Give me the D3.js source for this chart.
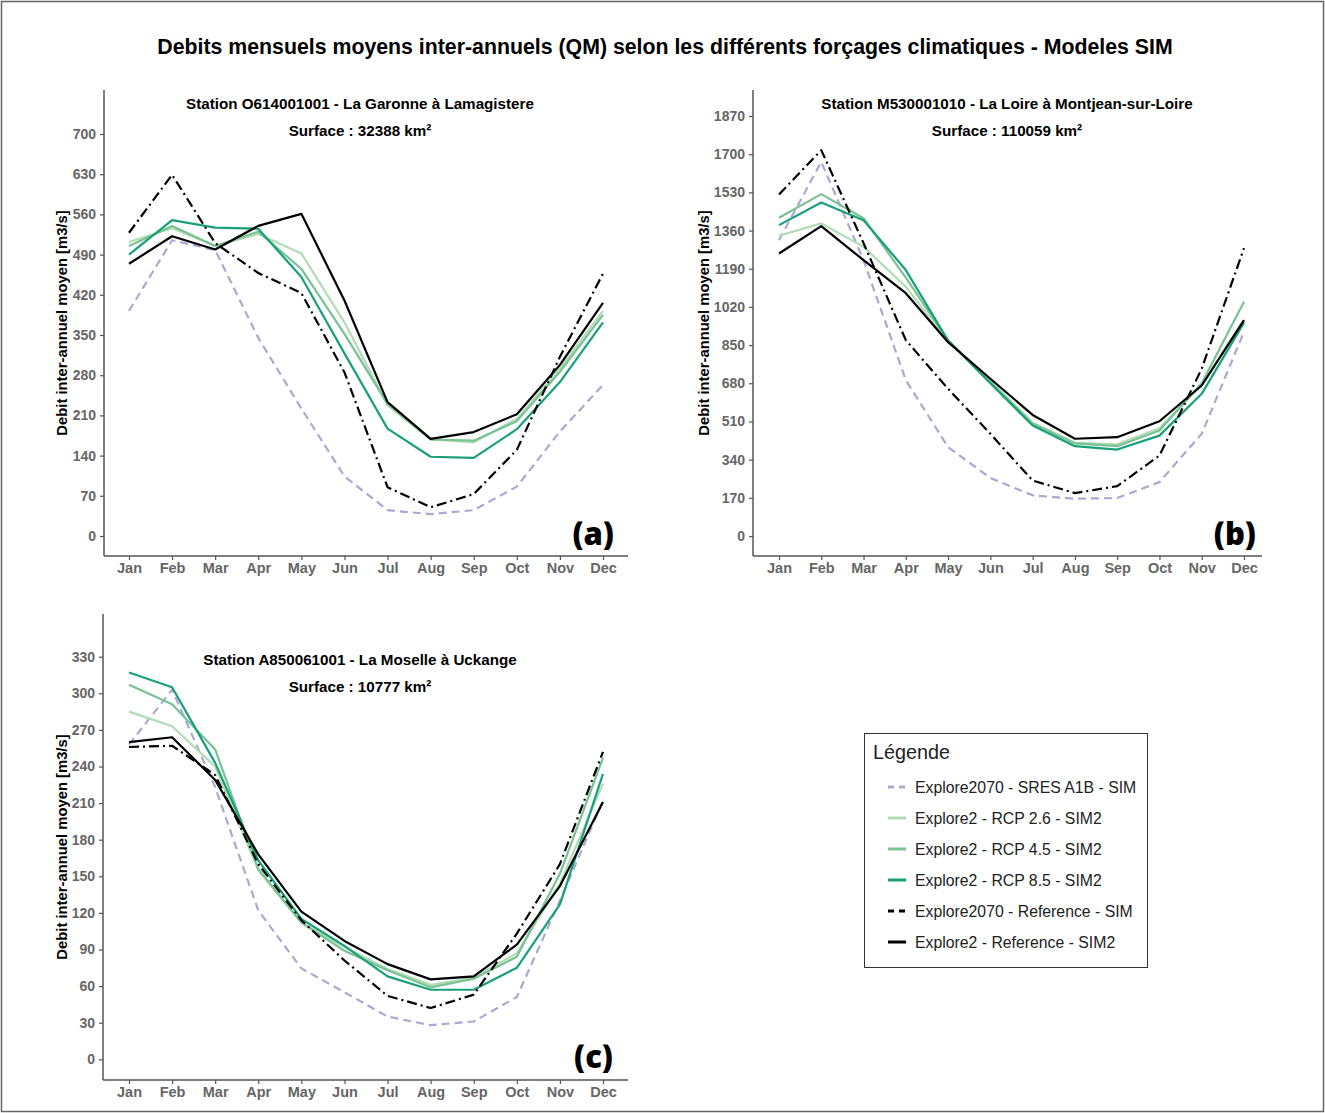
<!DOCTYPE html>
<html>
<head>
<meta charset="utf-8">
<script src="https://cdn.jsdelivr.net/npm/d3@7"></script>
<style>
  html, body { margin: 0; padding: 0; background: #fff; }
  svg { display: block; }
</style>
</head>
<body>
<svg id="chart" width="1325" height="1113"></svg>
<script>
// Months on the x axis
const months = ["Jan","Feb","Mar","Apr","May","Jun","Jul","Aug","Sep","Oct","Nov","Dec"];

// Series labels (legend order)
const seriesNames = [
  "Explore2070 - SRES A1B - SIM",
  "Explore2 - RCP 2.6 - SIM2",
  "Explore2 - RCP 4.5 - SIM2",
  "Explore2 - RCP 8.5 - SIM2",
  "Explore2070 - Reference - SIM",
  "Explore2 - Reference - SIM2"
];

// La Garonne à Lamagistere (m3/s)
const garonneSres  = [392, 515, 498, 345, 222, 104, 45, 38, 45, 86, 182, 263];
const garonneRcp26 = [512, 536, 505, 526, 492, 372, 228, 168, 163, 204, 292, 392];
const garonneRcp45 = [505, 540, 505, 530, 465, 352, 230, 168, 166, 200, 286, 385];
const garonneRcp85 = [490, 550, 537, 535, 451, 318, 187, 138, 136, 186, 268, 372];
const garonneRef70 = [528, 629, 510, 458, 423, 285, 85, 50, 73, 150, 312, 457];
const garonneRef2  = [474, 522, 499, 540, 561, 410, 233, 169, 181, 212, 298, 406];
const garonneTicks = [0, 70, 140, 210, 280, 350, 420, 490, 560, 630, 700];

// La Loire à Montjean-sur-Loire (m3/s)
const loireSres  = [1317, 1666, 1228, 694, 396, 258, 181, 166, 169, 240, 455, 909];
const loireRcp26 = [1337, 1392, 1288, 1110, 865, 690, 505, 415, 408, 480, 675, 960];
const loireRcp45 = [1417, 1522, 1415, 1150, 870, 685, 500, 412, 400, 470, 680, 1043];
const loireRcp85 = [1384, 1485, 1406, 1184, 870, 680, 492, 400, 385, 447, 633, 950];
const loireRef70 = [1521, 1718, 1304, 872, 655, 455, 247, 191, 222, 358, 745, 1282];
const loireRef2  = [1258, 1380, 1228, 1081, 863, 700, 539, 433, 440, 511, 670, 961];
const loireTicks = [0, 170, 340, 510, 680, 850, 1020, 1190, 1360, 1530, 1700, 1870];

// La Moselle à Uckange (m3/s)
const moselleSres  = [258, 303, 223, 122, 74.5, 55, 35, 28, 31, 51, 130, 212];
const moselleRcp26 = [285, 273, 240, 155, 112, 92, 74, 61, 67, 87, 144, 226];
const moselleRcp45 = [307, 291, 254, 156, 112, 89, 73, 59, 66, 84, 152, 247];
const moselleRcp85 = [317, 305, 243, 163, 115, 93, 68, 57, 57, 75, 127, 234];
const moselleRef70 = [256, 257, 233, 160, 114, 81, 52, 42, 53, 103, 160, 252];
const moselleRef2  = [260, 264, 229, 168, 121, 97, 78, 65.5, 68, 94, 142, 211];
const moselleTicks = [0, 30, 60, 90, 120, 150, 180, 210, 240, 270, 300, 330];

// Line styles per series
const styles = [
  { color: "#aba8d4", width: 2.2, dash: "8,5" },
  { color: "#b2dcb6", width: 2.2, dash: null },
  { color: "#79c294", width: 2.2, dash: null },
  { color: "#19a078", width: 2.2, dash: null },
  { color: "#000000", width: 2.2, dash: "10,4,2,4" },
  { color: "#000000", width: 2.2, dash: null }
];

const svg = d3.select("#chart");
const FONT = "'Liberation Sans', Arial, sans-serif";

// Outer frame
svg.append("rect")
  .attr("x", 1.5).attr("y", 1.5)
  .attr("width", 1322).attr("height", 1110)
  .attr("fill", "none").attr("stroke", "#666").attr("stroke-width", 1.5);

// Main title
svg.append("text")
  .attr("x", 665).attr("y", 54)
  .attr("text-anchor", "middle")
  .attr("font-family", FONT).attr("font-weight", "bold")
  .attr("font-size", "21.3px").attr("fill", "#000")
  .text("Debits mensuels moyens inter-annuels (QM) selon les différents forçages climatiques - Modeles SIM");

const panels = [
  {
    series: [garonneSres, garonneRcp26, garonneRcp45, garonneRcp85, garonneRef70, garonneRef2],
    ticks: garonneTicks,
    title: "Station O614001001 - La Garonne à Lamagistere",
    surface: "Surface : 32388 km²",
    tag: "(a)",
    left: 104, right: 628, top: 90, bottom: 556,
    first: 129, last: 603,
    zeroY: 536, topTickY: 134,
    titleX: 360, titleY: 109,
    tagX: 614, tagY: 545,
    yTitleX: 67
  },
  {
    series: [loireSres, loireRcp26, loireRcp45, loireRcp85, loireRef70, loireRef2],
    ticks: loireTicks,
    title: "Station M530001010 - La Loire à Montjean-sur-Loire",
    surface: "Surface : 110059 km²",
    tag: "(b)",
    left: 753, right: 1262, top: 90, bottom: 556,
    first: 779, last: 1244,
    zeroY: 536, topTickY: 116,
    titleX: 1007, titleY: 109,
    tagX: 1256, tagY: 545,
    yTitleX: 709
  },
  {
    series: [moselleSres, moselleRcp26, moselleRcp45, moselleRcp85, moselleRef70, moselleRef2],
    ticks: moselleTicks,
    title: "Station A850061001 - La Moselle à Uckange",
    surface: "Surface : 10777 km²",
    tag: "(c)",
    left: 103, right: 628, top: 614, bottom: 1080,
    first: 129, last: 603,
    zeroY: 1059.3, topTickY: 656.7,
    titleX: 360, titleY: 665,
    tagX: 613, tagY: 1068,
    yTitleX: 67
  }
];

panels.forEach(p => {
  const g = svg.append("g");
  const topTick = p.ticks[p.ticks.length - 1];

  const x = d3.scalePoint().domain(months).range([p.first, p.last]);
  // linear scale defined by the zero and top tick positions
  const y = d3.scaleLinear().domain([0, topTick]).range([p.zeroY, p.topTickY]);

  // Y axis
  const yAxis = d3.axisLeft(y).tickValues(p.ticks).tickSize(4).tickPadding(4).tickFormat(d3.format("d"));
  const ya = g.append("g").attr("transform", `translate(${p.left},0)`).call(yAxis);
  ya.select(".domain").remove();
  ya.selectAll(".tick line").attr("stroke", "#555").attr("stroke-width", 1.2);
  ya.selectAll(".tick text")
    .attr("font-family", FONT).attr("font-weight", "bold")
    .attr("font-size", "14px").attr("fill", "#666");
  g.append("line")
    .attr("x1", p.left).attr("x2", p.left)
    .attr("y1", p.top).attr("y2", p.bottom)
    .attr("stroke", "#555").attr("stroke-width", 1.5);

  // X axis
  const xAxis = d3.axisBottom(x).tickSize(4).tickPadding(3);
  const xa = g.append("g").attr("transform", `translate(0,${p.bottom})`).call(xAxis);
  xa.select(".domain").remove();
  xa.selectAll(".tick line").attr("stroke", "#555").attr("stroke-width", 1.2);
  xa.selectAll(".tick text")
    .attr("font-family", FONT).attr("font-weight", "bold")
    .attr("font-size", "14.5px").attr("fill", "#666");
  g.append("line")
    .attr("x1", p.left).attr("x2", p.right)
    .attr("y1", p.bottom).attr("y2", p.bottom)
    .attr("stroke", "#555").attr("stroke-width", 1.5);

  // Y axis title
  g.append("text")
    .attr("transform", `translate(${p.yTitleX},${(p.top + p.bottom) / 2}) rotate(-90)`)
    .attr("text-anchor", "middle")
    .attr("font-family", FONT).attr("font-weight", "bold")
    .attr("font-size", "14.8px").attr("fill", "#000")
    .text("Debit inter-annuel moyen [m3/s]");

  // Station titles
  g.append("text")
    .attr("x", p.titleX).attr("y", p.titleY)
    .attr("text-anchor", "middle")
    .attr("font-family", FONT).attr("font-weight", "bold")
    .attr("font-size", "15.2px").attr("fill", "#000")
    .text(p.title);
  g.append("text")
    .attr("x", p.titleX).attr("y", p.titleY + 27)
    .attr("text-anchor", "middle")
    .attr("font-family", FONT).attr("font-weight", "bold")
    .attr("font-size", "15.2px").attr("fill", "#000")
    .text(p.surface);

  // Series lines
  const line = d3.line()
    .x((d, i) => x(months[i]))
    .y(d => y(d));
  p.series.forEach((vals, i) => {
    const s = styles[i];
    g.append("path")
      .datum(vals)
      .attr("d", line)
      .attr("fill", "none")
      .attr("stroke", s.color)
      .attr("stroke-width", s.width)
      .attr("stroke-linejoin", "round")
      .attr("stroke-dasharray", s.dash);
  });

  // Panel tag
  g.append("text")
    .attr("x", p.tagX).attr("y", p.tagY)
    .attr("text-anchor", "end")
    .attr("font-family", "'Open Sans', sans-serif").attr("font-weight", 800)
    .attr("font-size", "31px").attr("fill", "#000")
    .text(p.tag);
});

// Legend
const lg = svg.append("g");
lg.append("rect")
  .attr("x", 864.5).attr("y", 733.5)
  .attr("width", 283).attr("height", 234)
  .attr("fill", "#fff").attr("stroke", "#333").attr("stroke-width", 1);
lg.append("text")
  .attr("x", 873).attr("y", 759)
  .attr("font-family", FONT).attr("font-size", "19.8px").attr("fill", "#222")
  .text("Légende");
seriesNames.forEach((name, i) => {
  const cy = 787 + i * 31;
  const s = styles[i];
  lg.append("line")
    .attr("x1", 888).attr("x2", 906)
    .attr("y1", cy).attr("y2", cy)
    .attr("stroke", s.color).attr("stroke-width", 3)
    .attr("stroke-dasharray", s.dash ? "6,5" : null);
  lg.append("text")
    .attr("x", 915).attr("y", cy + 5.5)
    .attr("font-family", FONT).attr("font-size", "15.8px").attr("fill", "#222")
    .text(name);
});
</script>
</body>
</html>
